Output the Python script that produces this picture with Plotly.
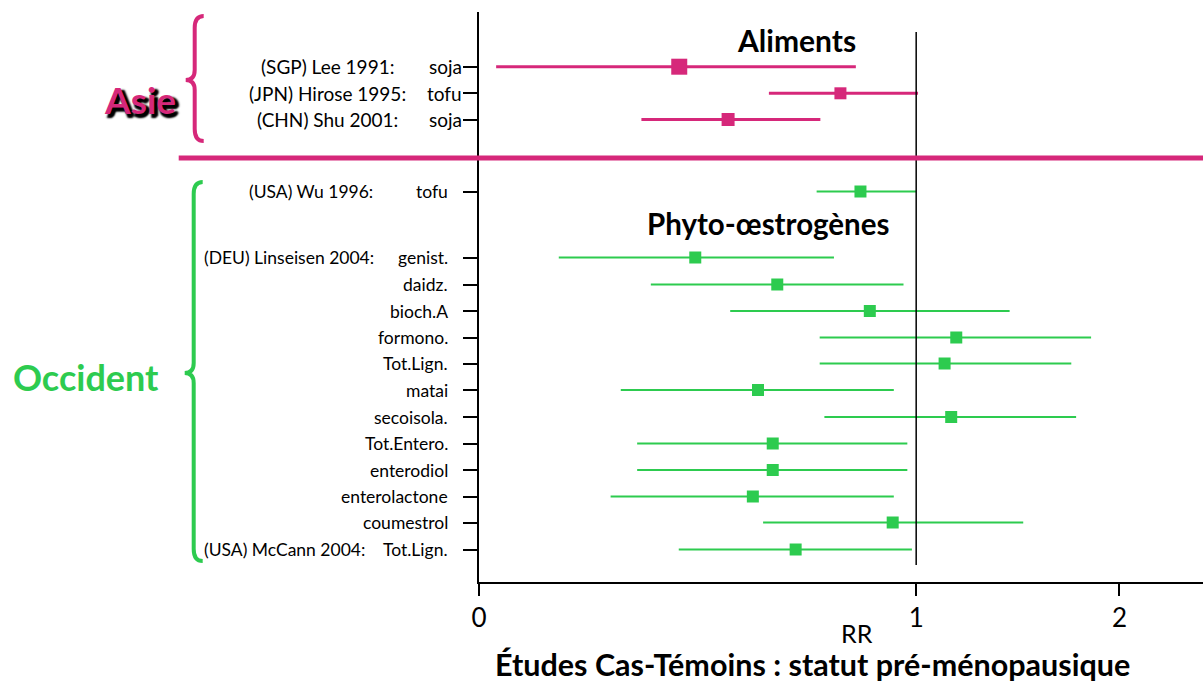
import math
import plotly.graph_objects as go

# ---------------- data ----------------
asia_studies = ["(SGP) Lee 1991:", "(JPN) Hirose 1995:", "(CHN) Shu 2001:"]
asia_items = ["soja", "tofu", "soja"]
asia_rr = [0.327, 0.740, 0.435]
asia_lo = [0.022, 0.536, 0.252]
asia_hi = [0.789, 1.007, 0.679]

west_studies = ["(USA) Wu 1996:", "(DEU) Linseisen 2004:", "", "", "", "", "", "", "",
                "", "", "", "(USA) McCann 2004:"]
west_items = ["tofu", "genist.", "daidz.", "bioch.A", "formono.", "Tot.Lign.", "matai",
              "secoisola.", "Tot.Entero.", "enterodiol", "enterolactone", "coumestrol",
              "Tot.Lign."]
west_rr = [0.804, 0.361, 0.558, 0.835, 1.159, 1.111, 0.508, 1.138, 0.546, 0.546, 0.495,
           0.914, 0.608]
west_lo = [0.668, 0.111, 0.270, 0.440, 0.677, 0.677, 0.214, 0.691, 0.244, 0.244, 0.196,
           0.521, 0.326]
west_hi = [1.000, 0.720, 0.953, 1.397, 1.828, 1.715, 0.918, 1.742, 0.967, 0.967, 0.918,
           1.463, 0.984]

x_ticks = [0, 1, 2]
x_max = 2.584

# ---------------- layout constants ----------------
W, H = 1203, 685
L, R = 478.5, 1203
TOP, BOT = 12, 582
PINK = "#D6287A"
GREEN = "#2DCB4F"
FONT = "Lato"

asia_rows = [66.7, 93.3, 119.5]
west_rows = [191.5, 257.5, 284.5, 311, 337.5, 363.5, 390, 417, 443.5, 470, 496.5, 522.5, 549.5]


def T(v):
    # pseudo-log scale of the original chart
    return math.log(1 + 2 * v) / math.log(3)


def px(X):
    return (X - L) / (R - L)


def py(Y):
    return (BOT - Y) / (BOT - TOP)


fig = go.Figure()


def add_group(rr, lo, hi, rows, color, lw, sizes):
    for i in range(len(rr)):
        fig.add_trace(go.Scatter(
            x=[T(lo[i]), T(hi[i])], y=[rows[i], rows[i]], mode="lines",
            line=dict(color=color, width=lw), hoverinfo="skip", showlegend=False))
    fig.add_trace(go.Scatter(
        x=[T(v) for v in rr], y=rows, mode="markers",
        marker=dict(symbol="square", size=sizes, color=color, opacity=1, line=dict(width=0)),
        showlegend=False))


add_group(asia_rr, asia_lo, asia_hi, asia_rows, PINK, 3, [16, 12, 13])
add_group(west_rr, west_lo, west_hi, west_rows, GREEN, 2, 12)

shapes = []
# reference line at RR = 1
shapes.append(dict(type="line", xref="x", yref="y", x0=T(1), x1=T(1), y0=32, y1=565,
                   line=dict(color="black", width=1.5)))
# pink separator
shapes.append(dict(type="line", xref="paper", yref="paper", x0=px(178), x1=px(1203),
                   y0=py(158), y1=py(158), line=dict(color=PINK, width=5)))


def brace(x_end, x_mid, x_tip, y0, ymid, y1):
    pts = (f"M {px(x_end)},{py(y0)} "
           f"Q {px(x_mid)},{py(y0)} {px(x_mid)},{py(y0 + 12)} "
           f"L {px(x_mid)},{py(ymid - 10)} "
           f"Q {px(x_mid)},{py(ymid)} {px(x_tip)},{py(ymid)} "
           f"Q {px(x_mid)},{py(ymid)} {px(x_mid)},{py(ymid + 10)} "
           f"L {px(x_mid)},{py(y1 - 12)} "
           f"Q {px(x_mid)},{py(y1)} {px(x_end)},{py(y1)}")
    return pts


shapes.append(dict(type="path", xref="paper", yref="paper",
                   path=brace(203, 194, 185, 16, 80, 141),
                   line=dict(color=PINK, width=4)))
shapes.append(dict(type="path", xref="paper", yref="paper",
                   path=brace(202, 193, 184, 182, 373, 561),
                   line=dict(color=GREEN, width=4)))

ann = []


def text(x, y, s, size, color="black", bold=False, xanchor="center", shadow=None):
    f = dict(family=FONT, size=size, color=color)
    if shadow:
        f["shadow"] = shadow
    d = dict(xref="paper", yref="paper", x=px(x), y=py(y), text=f"<b>{s}</b>" if bold else s,
             showarrow=False, xanchor=xanchor, yanchor="middle", font=f)
    ann.append(d)


# left labels
for i in range(len(asia_rows)):
    text(327, asia_rows[i], asia_studies[i], 19)
    text(463, asia_rows[i], asia_items[i], 19, xanchor="right")
west_study_x = [310, 288, 0, 0, 0, 0, 0, 0, 0, 0, 0, 0, 284]
for i in range(len(west_rows)):
    if west_studies[i]:
        text(west_study_x[i], west_rows[i], west_studies[i], 17.5)
    text(449, west_rows[i], west_items[i], 17.5, xanchor="right")

# group / section titles
text(139, 99, "Asie", 37, color=PINK, bold=True,
     shadow="3px 3px 2px #000, 2px 4px 2px #000, 4px 2px 2px #000")
text(85, 377, "Occident", 36, color=GREEN, bold=True)
text(796, 40, "Aliments", 30, bold=True)
text(768, 223, "Phyto-œstrogènes", 29.5, bold=True)
text(857, 633, "RR", 25)
text(812, 664, "Études Cas-Témoins : statut pré-ménopausique", 30.5, bold=True)

fig.update_layout(
    width=W, height=H,
    margin=dict(l=L, r=W - R, t=TOP, b=H - BOT),
    paper_bgcolor="white", plot_bgcolor="white",
    shapes=shapes, annotations=ann, showlegend=False,
    xaxis=dict(range=[0, T(x_max)], tickvals=[T(v) for v in x_ticks],
               ticktext=[str(v) for v in x_ticks], showgrid=False, zeroline=False,
               showline=True, linecolor="black", linewidth=2,
               ticks="outside", ticklen=12, tickwidth=2, tickcolor="black",
               tickfont=dict(family=FONT, size=26, color="black")),
    yaxis=dict(range=[BOT, TOP], tickvals=asia_rows + west_rows, showticklabels=False,
               showgrid=False, zeroline=False, showline=True, linecolor="black",
               linewidth=2, ticks="outside", ticklen=14, tickwidth=2, tickcolor="black"),
)

fig.write_html("out.html")
